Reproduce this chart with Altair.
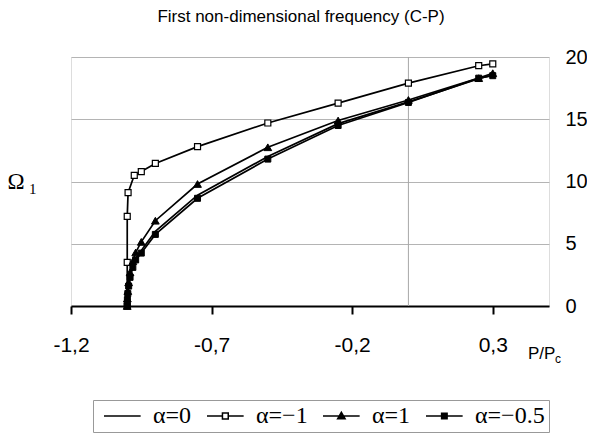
import altair as alt
import pandas as pd

# ---- data ----
series_names = ["α=0", "α=−1", "α=1", "α=−0.5"]

p_common = [-1.0, -0.9995, -0.998, -0.995, -0.99, -0.98, -0.97, -0.95, -0.9, -0.75, -0.5, -0.25, 0.0, 0.25, 0.3]
w_a0 = [0.0, 0.55, 1.1, 1.7, 2.4, 3.25, 3.85, 4.45, 6.0, 8.9, 12.0, 14.65, 16.4, 18.25, 18.55]
w_a1 = [0.0, 0.6, 1.2, 1.9, 2.7, 3.6, 4.3, 5.15, 6.85, 9.8, 12.75, 14.9, 16.55, 18.3, 18.7]
w_am05 = [0.0, 0.5, 1.0, 1.6, 2.3, 3.1, 3.7, 4.25, 5.75, 8.65, 11.8, 14.5, 16.35, 18.3, 18.5]
p_am1 = [-1.0, -1.0, -1.0, -0.997, -0.975, -0.95, -0.9, -0.75, -0.5, -0.25, 0.0, 0.25, 0.3]
w_am1 = [0.0, 3.5, 7.2, 9.1, 10.5, 10.8, 11.45, 12.8, 14.7, 16.3, 17.9, 19.3, 19.45]

x_ticks = [-1.2, -0.7, -0.2, 0.3]
y_ticks = [0, 5, 10, 15, 20]
x_domain = [-1.2, 0.5]
y_domain = [0, 20]
vertical_grid_at = [0.0]

title_text = "First non-dimensional frequency (C-P)"
ylab_main, ylab_sub = "Ω", "1"
xlab_main, xlab_sub = "P/P", "c"

# ---- table ----
rows = []
for name, ps, ws in [("α=0", p_common, w_a0), ("α=−1", p_am1, w_am1),
                     ("α=1", p_common, w_a1), ("α=−0.5", p_common, w_am05)]:
    for i, (p, w) in enumerate(zip(ps, ws)):
        rows.append({"P": p, "W": w, "series": name, "idx": i})
df = pd.DataFrame(rows)

xs = alt.Scale(domain=x_domain, nice=False, zero=False)
ys = alt.Scale(domain=y_domain, nice=False, zero=False)

x_enc = alt.X("P:Q", scale=xs, axis=alt.Axis(
    values=x_ticks, title=None, grid=False, domainColor="black", domainWidth=2,
    tickColor="black", tickWidth=2, tickSize=8, labelFontSize=21, labelPadding=20,
    labelColor="black", labelFont="Liberation Sans", labelFlush=False,
    labelExpr="replace(replace(format(datum.value, '.1f'), '.', ','), '\u2212', '-')"))
y_enc = alt.Y("W:Q", scale=ys, axis=alt.Axis(
    orient="right", values=y_ticks, format="d", title=None, grid=True,
    gridColor="#b4b4b4", gridWidth=1, ticks=False, domain=False, labelFlush=False,
    labelPadding=16, labelFontSize=20, labelColor="black", labelFont="Liberation Sans"))

vgrid = alt.Chart(pd.DataFrame({"P": vertical_grid_at})).mark_rule(
    color="#a8a8a8", strokeWidth=1).encode(x=alt.X("P:Q", scale=xs))

lines = alt.Chart(df).mark_line(color="black", strokeWidth=1.7).encode(
    x=x_enc, y=y_enc, detail="series:N", order="idx:Q")

def pts(name, **kw):
    return alt.Chart(df).transform_filter(
        alt.datum.series == name).mark_point(opacity=1, stroke="black", **kw).encode(
        x=alt.X("P:Q", scale=xs), y=alt.Y("W:Q", scale=ys))

p_open = pts("α=−1", shape="square", filled=True, fill="white", strokeWidth=1.2, size=36)
p_tri = pts("α=1", shape="triangle-up", filled=True, fill="black", strokeWidth=1, size=60)
p_sq = pts("α=−0.5", shape="square", filled=True, fill="black", strokeWidth=1, size=36)

# legend symbols: line with marker (custom paths)
sym_paths = [
    "M-1,0L6.33,0",
    "M-1,0L2.09,0M3.25,0L6.33,0M2.09,-0.58L3.25,-0.58L3.25,0.58L2.09,0.58Z",
    "M-1,0L6.33,0M1.92,0.55L2.67,-0.75L3.42,0.55Z",
    "M-1,0L6.33,0M2.12,-0.55L3.22,-0.55L3.22,0.55L2.12,0.55Z",
]
sym_fills = ["black", "white", "black", "black"]
sym_strokes = ["black", "black", "black", "black"]
leg = alt.Legend(title=None, orient="none", legendX=22, legendY=343, direction="horizontal",
                 labelFont="Liberation Serif", labelFontSize=24, labelColor="black",
                 labelOffset=32, columnPadding=8, symbolStrokeWidth=1.5,
                 strokeColor="#999999", padding=4,
                 labelLimit=300, symbolOpacity=1)
legend_layer = alt.Chart(df).transform_filter("false").mark_point(
    filled=True, size=144, strokeWidth=1.5, opacity=1).encode(
    x=alt.X("P:Q", scale=xs), y=alt.Y("W:Q", scale=ys),
    shape=alt.Shape("series:N", scale=alt.Scale(domain=series_names, range=sym_paths), legend=leg),
    fill=alt.Fill("series:N", scale=alt.Scale(domain=series_names, range=sym_fills), legend=leg),
    stroke=alt.Stroke("series:N", scale=alt.Scale(domain=series_names, range=sym_strokes), legend=leg))

def label(text, x, y, size, font, align="left"):
    return alt.Chart(pd.DataFrame({"t": [text]})).mark_text(
        font=font, fontSize=size, align=align, baseline="alphabetic", color="black").encode(
        text="t:N", x=alt.value(x), y=alt.value(y))

texts = [
    label(title_text, 230, -35, 17, "Liberation Sans", "center"),
    label(ylab_main, -55, 132, 23, "Liberation Serif", "center"),
    label(ylab_sub, -42, 137, 15, "Liberation Serif"),
    label(xlab_main, 457, 302, 17, "Liberation Sans"),
    label(xlab_sub, 484, 306, 12, "Liberation Sans"),
]

chart = alt.layer(vgrid, lines, p_open, p_tri, p_sq, legend_layer, *texts).properties(
    width=478, height=249,
    padding={"left": 63, "top": 49, "right": 38, "bottom": 133},
    autosize=alt.AutoSizeParams(type="none"),
).configure_view(stroke="#a8a8a8", strokeWidth=1).configure(background="white")

chart.save("out.html", embed_options={"renderer": "svg", "actions": False})
